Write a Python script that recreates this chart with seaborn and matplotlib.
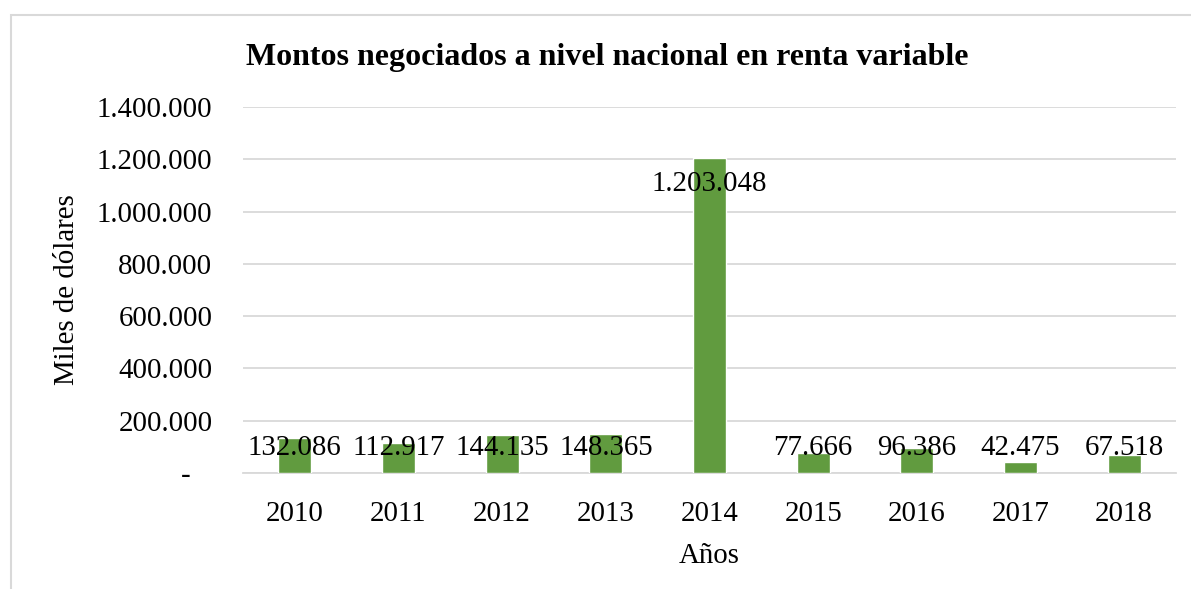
import matplotlib
matplotlib.use("Agg")
import matplotlib.pyplot as plt
import seaborn as sns
import pandas as pd
from matplotlib.patches import Rectangle
from matplotlib.ticker import FuncFormatter

# Datos
years = ["2010", "2011", "2012", "2013", "2014", "2015", "2016", "2017", "2018"]
montos = [132086, 112917, 144135, 148365, 1203048, 77666, 96386, 42475, 67518]

df = pd.DataFrame({"Año": years, "Monto": montos})

sns.set_theme(style="white")
plt.rcParams['font.family'] = ['Liberation Serif', 'DejaVu Serif']
plt.rcParams['text.color'] = 'black'
plt.rcParams['axes.labelcolor'] = 'black'

fig = plt.figure(figsize=(11.91, 5.89), dpi=100)
ax = fig.add_axes([243 / 1191, 1 - 473 / 589, (1176 - 243) / 1191, (473 - 107) / 589])

sns.barplot(data=df, x="Año", y="Monto", color="#619B3F", width=0.32,
            saturation=1, ax=ax, zorder=3)

ax.set_ylim(0, 1400000)
ax.set_yticks(range(0, 1400001, 200000))


def miles(v, pos):
    if v == 0:
        return "-   "
    return f"{int(v):,}".replace(",", ".")


ax.yaxis.set_major_formatter(FuncFormatter(miles))
ax.grid(axis="y", color="#D9D9D9", linewidth=1.3, zorder=0)
ax.set_axisbelow(True)
for s in ["top", "right", "left"]:
    ax.spines[s].set_visible(False)
ax.spines["bottom"].set_color("#D9D9D9")
ax.spines["bottom"].set_linewidth(1.3)
ax.tick_params(axis="both", length=0, labelsize=20.8, colors="black")
ax.tick_params(axis="y", pad=22)
ax.tick_params(axis="x", pad=20)

ax.set_xlabel("Años", fontsize=20.8, labelpad=12)
ax.set_ylabel("Miles de dólares", fontsize=20.8, labelpad=12)

# etiquetas de datos (extremo interno)
off = 97000
for i, v in enumerate(montos):
    ax.text(i, max(v - off, off), f"{v:,}".replace(",", "."), ha="center",
            va="center", fontsize=20.8, zorder=4)

fig.text(607 / 1191, 1 - 58 / 589, "Montos negociados a nivel nacional en renta variable",
         ha="center", va="center", fontsize=23, fontweight="bold")

# marco del gráfico
fig.patches.append(Rectangle((11 / 1191, -0.1), 1.2, 1 - 15 / 589 + 0.1,
                             transform=fig.transFigure, fill=False,
                             edgecolor="#D9D9D9", linewidth=1.5))

fig.savefig("out.png", dpi=100)
